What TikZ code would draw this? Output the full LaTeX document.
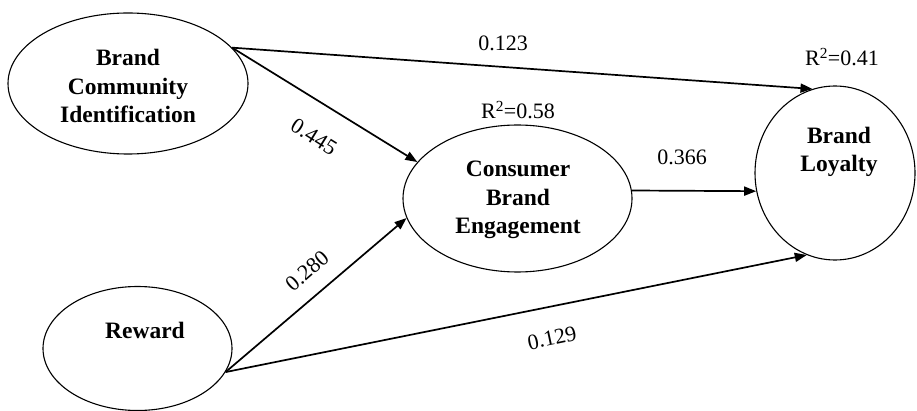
\documentclass[tikz,border=0pt]{standalone}
\usepackage{fontspec}
\setmainfont{Liberation Serif}
\usetikzlibrary{arrows.meta,shapes.geometric}
\begin{document}
\begin{tikzpicture}[x=1pt,y=-1pt,
  latent/.style={draw, ellipse, line width=1.1pt, inner sep=0pt},
  pathar/.style={line width=1.7pt, -{Triangle[length=12pt,width=9pt]}},
  lname/.style={font=\fontsize{23.5}{28.5}\selectfont\bfseries, align=center, inner sep=0pt},
  coef/.style={font=\fontsize{22}{25}\selectfont, inner sep=0pt}]
\useasboundingbox (0,0) rectangle (917,411);
% latent variables
\node[latent, minimum width=240pt, minimum height=141pt] (bci) at (128,83.5) {};
\node[latent, minimum width=189pt, minimum height=124pt] (rew) at (137.5,348.5) {};
\node[latent, minimum width=229pt, minimum height=147pt] (cbe) at (517.5,198.5) {};
\node[latent, minimum width=160pt, minimum height=174pt] (bl) at (835,173) {};
% names
\node[lname] (bcit) at (128,86) {Brand\\Community\\Identification};
\node[lname] (rewt) at (145,330) {Reward};
\node[lname] (cbet) at (518,200) {Consumer\\Brand\\Engagement};
\node[lname] (blt) at (839,152) {Brand\\Loyalty};
% R squared
\node[coef] (r1) at (518,110) {R\textsuperscript{2}=0.58};
\node[coef] (r2) at (842,57) {R\textsuperscript{2}=0.41};
% paths
\draw[pathar] (bci.19) -- (bl.105);
\draw[pathar] (bci.19) -- (cbe.160);
\draw[pathar] (rew.-15) -- (cbe.190);
\draw[pathar] (rew.-15) -- (bl.251);
\draw[pathar] (cbe.4) -- (bl.193);
% coefficients
\node[coef] (c1) at (503,43) {0.123};
\node[coef, rotate=-32] (c2) at (314,137) {0.445};
\node[coef, rotate=41] (c3) at (307,271) {0.280};
\node[coef, rotate=12] (c4) at (552,338) {0.129};
\node[coef] (c5) at (682,157) {0.366};
\end{tikzpicture}
\end{document}
